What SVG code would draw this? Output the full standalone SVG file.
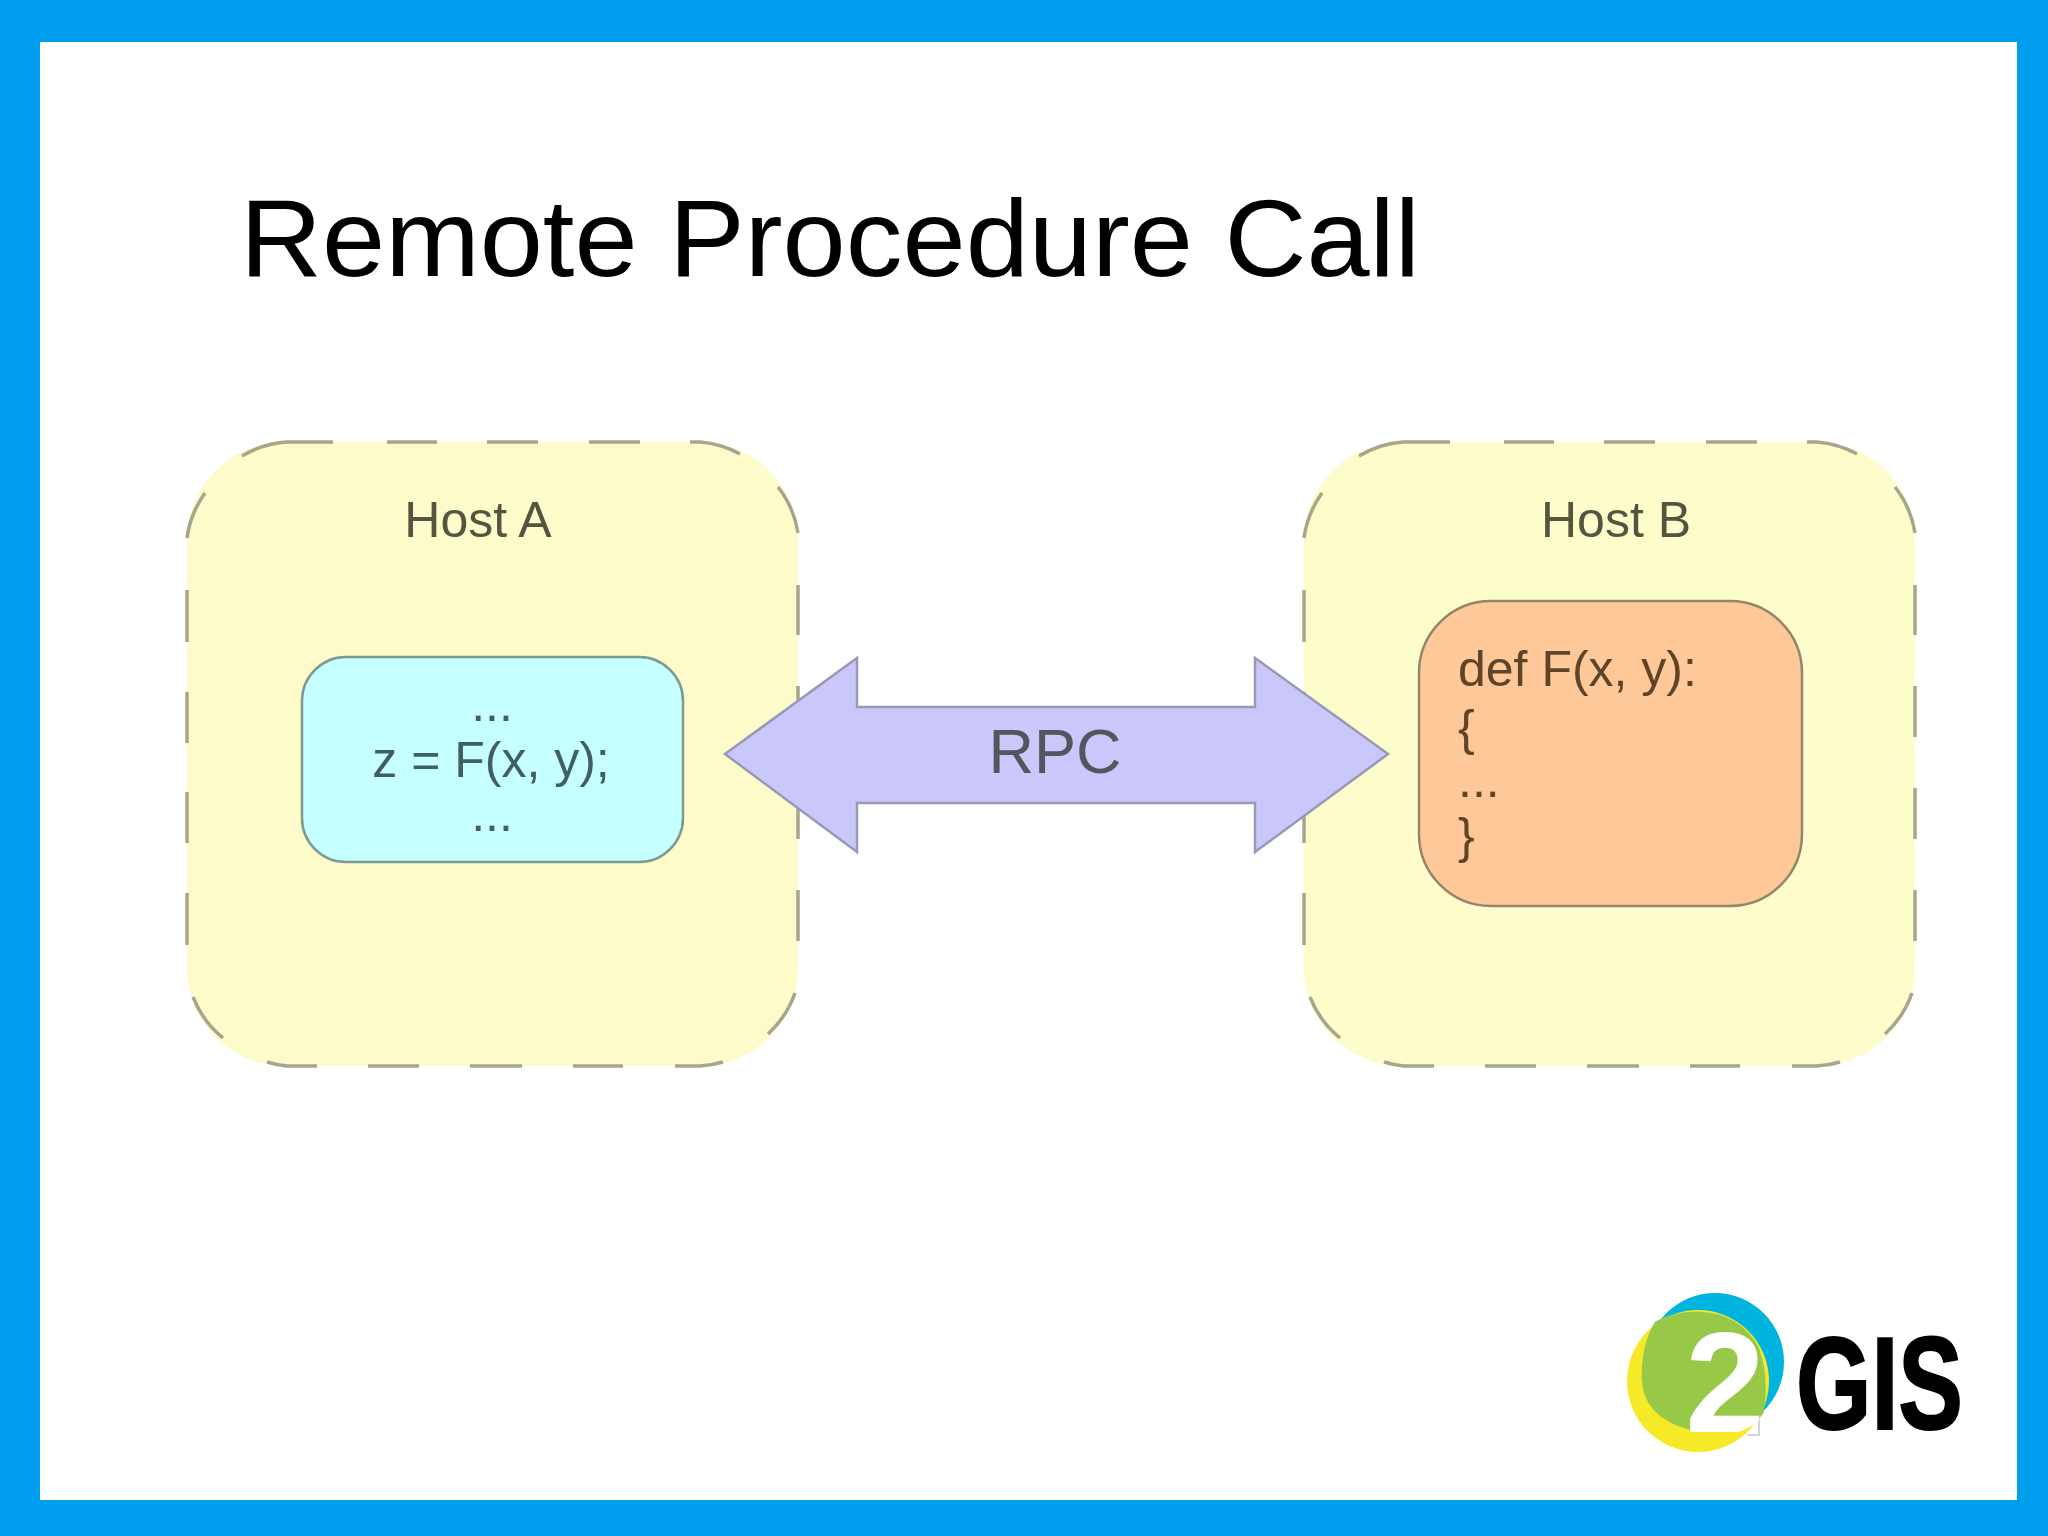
<svg xmlns="http://www.w3.org/2000/svg" width="2048" height="1536" viewBox="0 0 2048 1536">
<style>
text{font-family:"Liberation Sans",Arial,sans-serif}
.dash{fill:none;stroke:#a8a58c;stroke-width:3.5}
.lbl{font-size:50px;fill:#55553f;text-anchor:middle}
.a{font-size:50px;fill:#3f5f60;text-anchor:middle}
.b{font-size:50px;fill:#5f4428}
</style>
<defs>
<path id="dashes" d="M242 456A100 100 0 0 1 286 442H333M387 442H437M487 442H538M589 442H640M690 442H700A100 100 0 0 1 740 454M778 487A100 100 0 0 1 798 533M205 493A100 100 0 0 0 187 538M187 590V642M187 692V743M187 792V843M187 893V945M798 585V635M798 686V737M798 788V839M798 890V941M193 997A100 100 0 0 0 223 1038M267 1062A100 100 0 0 0 287 1066H317M368 1066H419M470 1066H522M573 1066H623M675 1066H700A100 100 0 0 0 723 1062M768 1034A100 100 0 0 0 795 993"/>
<clipPath id="two"><circle cx="1715" cy="1365" r="71"/></clipPath>
</defs>
<rect width="2048" height="1536" fill="#009eee"/>
<rect x="40" y="42" width="1977" height="1458" fill="#fff"/>
<text id="title" x="240" y="276" font-size="110" fill="#000" textLength="1180" lengthAdjust="spacingAndGlyphs">Remote Procedure Call</text>
<g id="host-a">
<rect x="187" y="442" width="611" height="624" rx="98" fill="#fefbca"/>
<use href="#dashes" class="dash"/>
<text class="lbl" x="478" y="537">Host A</text>
</g>
<g id="host-b">
<rect x="1304" y="442" width="611" height="624" rx="98" fill="#fcfdca"/>
<use href="#dashes" class="dash" transform="translate(1117 0)"/>
<text class="lbl" x="1616" y="537">Host B</text>
</g>
<g id="caller">
<rect x="302" y="657" width="381" height="205" rx="44" fill="#c6ffff" stroke="#7f9a90" stroke-width="2.5"/>
<text class="a" x="492" y="721">...</text>
<text class="a" x="491" y="777">z = F(x, y);</text>
<text class="a" x="492" y="831">...</text>
</g>
<g id="callee">
<rect x="1419" y="601" width="383" height="305" rx="72" fill="#fec899" stroke="#94866c" stroke-width="2.5"/>
<text class="b" x="1458" y="686">def F(x, y):</text>
<text class="b" x="1458" y="745">{</text>
<text class="b" x="1458" y="797">...</text>
<text class="b" x="1458" y="853">}</text>
</g>
<g id="connectors">
<polygon points="725,754 857,658 857,707 1255,707 1255,658 1388,754 1255,852 1255,803 857,803 857,852" fill="#cac8fb" stroke="#9a98b5" stroke-width="2.5"/>
<text x="1055" y="773" font-size="63" fill="#55555f" text-anchor="middle">RPC</text>
</g>
<g id="logo">
<circle cx="1715" cy="1362" r="69" fill="#00b4e0"/>
<circle cx="1698" cy="1381" r="71" fill="#f6ea28"/>
<path transform="translate(1600 1270) scale(.3333)" d="M165 155Q225 122 300 125Q420 130 475 230Q510 320 490 430L470 455Q380 500 270 480Q125 440 125 320Q125 220 165 155Z" fill="#98c848"/>
<path d="M1759 1417V1435H1747" fill="none" stroke="#c8c8c8" stroke-width="1.5"/>
<text x="1725" y="1432" font-size="143" font-weight="700" fill="#fff" text-anchor="middle" clip-path="url(#two)">2</text>
<text x="1796" y="1429" font-size="132" font-weight="700" fill="#000" stroke="#000" stroke-width="2" textLength="167" lengthAdjust="spacingAndGlyphs">GIS</text>
</g>
</svg>
